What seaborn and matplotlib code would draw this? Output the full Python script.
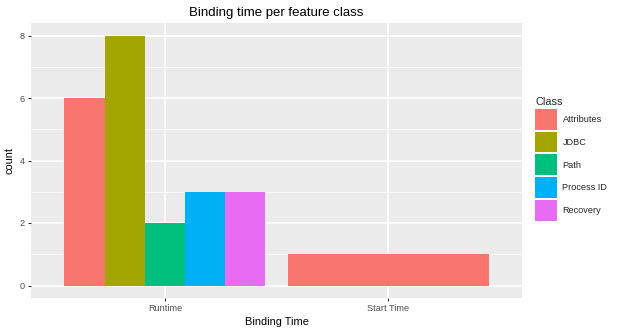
import matplotlib
matplotlib.use("Agg")
import matplotlib.pyplot as plt
import seaborn as sns
import pandas as pd

binding_times = ["Runtime", "Start Time"]
classes = ["Attributes", "JDBC", "Path", "Process ID", "Recovery"]
colors = ["#F8766D", "#A3A500", "#00BF7D", "#00B0F6", "#E76BF3"]

runtime_counts = [6, 8, 2, 3, 3]
start_classes = ["Attributes"]
start_counts = [1]

df_run = pd.DataFrame({"Binding Time": "Runtime", "Class": classes, "count": runtime_counts})
df_start = pd.DataFrame({"Binding Time": "Start Time", "Class": start_classes, "count": start_counts})

sns.set_theme(style="darkgrid")
plt.rcParams["font.family"] = ["Liberation Sans", "DejaVu Sans"]

fig = plt.figure(figsize=(6.27, 3.32), dpi=100)
ax = fig.add_axes([31 / 627, 34 / 332, 491 / 627, 275 / 332])
ax.set_facecolor("#EBEBEB")

pal = dict(zip(classes, colors))
sns.barplot(data=df_run, x="Binding Time", y="count", hue="Class", order=binding_times,
            hue_order=classes, palette=pal, width=0.9, saturation=1, ax=ax,
            edgecolor="none", linewidth=0, errorbar=None)
sns.barplot(data=df_start, x="Binding Time", y="count", hue="Class", order=binding_times,
            hue_order=classes, palette=pal, width=0.9, saturation=1, ax=ax, dodge=False,
            edgecolor="none", linewidth=0, errorbar=None, legend=False)

ax.set_xlim(-0.6, 1.6)
ax.set_ylim(-0.4, 8.4)
ax.set_yticks([0, 2, 4, 6, 8])
ax.set_yticks([1, 3, 5, 7], minor=True)
ax.grid(which="major", color="white", linewidth=1.1)
ax.grid(which="minor", axis="y", color="white", linewidth=0.55)
ax.grid(which="minor", axis="x", visible=False)
ax.set_axisbelow(True)
for s in ax.spines.values():
    s.set_visible(False)
ax.tick_params(axis="both", which="major", length=2.5, width=0.8, color="#333333",
               labelsize=6.6, labelcolor="#4D4D4D", pad=2, direction="out",
               bottom=True, left=True)
ax.tick_params(which="minor", length=0)

ax.set_title("Binding time per feature class", fontsize=9.5, color="black", pad=5)
ax.set_xlabel("Binding Time", fontsize=7.9, color="black", labelpad=3)
ax.set_ylabel("count", fontsize=7.9, color="black", labelpad=4)

handles, labels = ax.get_legend_handles_labels()
leg = ax.legend(handles, labels, title="Class", loc="upper left",
                bbox_to_anchor=(535 / 627, 235 / 332), bbox_transform=fig.transFigure,
                frameon=False, fontsize=6.6, title_fontsize=7.9,
                handlelength=2.45, handleheight=3.1, handletextpad=0.55,
                labelspacing=0.22, borderaxespad=0, borderpad=0)
leg._legend_box.align = "left"

fig.savefig("out.png", dpi=100)
